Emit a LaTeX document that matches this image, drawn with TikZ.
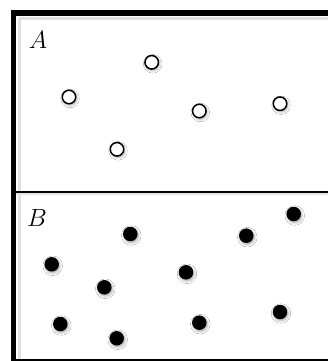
\documentclass[tikz,border=0pt]{standalone}
\usetikzlibrary{shadows.blur}
\begin{document}
\begin{tikzpicture}[x=1pt,y=-1pt,
  shade/.style={blur shadow={shadow xshift=1pt, shadow yshift=-1.5pt, shadow blur radius=2.5pt, shadow opacity=35}},
  opendot/.style={circle, draw=black, fill=white, line width=1.5pt, minimum size=13.5pt, inner sep=0pt, shade},
  fulldot/.style={circle, fill=black, minimum size=14.5pt, inner sep=0pt, shade},
  lbl/.style={font=\fontsize{28}{30}\selectfont, inner sep=0pt},
  frame/.style={line width=5.5pt},
  divider/.style={line width=1.6pt}]
\useasboundingbox (0,0) rectangle (328,361);
\fill[white] (0,0) rectangle (328,361);
\begin{scope}
\clip (0,0) rectangle (328,361);
% soft shadows of the frame
\draw[black!12, line width=3pt] (19,19) -- (340,19);
\draw[black!12, line width=3pt] (19,19) -- (19,361);
\draw[black!10, line width=2.5pt] (16,194) -- (340,194);
\draw[frame] (13.5,362) -- (13.5,13) -- (340,13);
\draw[frame] (13.5,361.5) -- (340,361.5);
\coordinate (dl) at (13.5,191.7);
\coordinate (dr) at (340,191.7);
\draw[divider] (dl) -- (dr);
\end{scope}
\node[lbl] (A) at (38,40) {$A$};
\node[lbl] (B) at (37,218) {$B$};
% open circles
\node[opendot] (a1) at (151.7,62.3) {};
\node[opendot] (a2) at (69,97) {};
\node[opendot] (a3) at (199.3,111) {};
\node[opendot] (a4) at (280,103.7) {};
\node[opendot] (a5) at (117,149.3) {};
% filled dots
\node[fulldot] (b1) at (130.3,234) {};
\node[fulldot] (b2) at (293.7,214) {};
\node[fulldot] (b3) at (246.3,235.7) {};
\node[fulldot] (b4) at (51.7,264.3) {};
\node[fulldot] (b5) at (186,272.3) {};
\node[fulldot] (b6) at (104.3,287.3) {};
\node[fulldot] (b7) at (60.3,324) {};
\node[fulldot] (b8) at (116.7,338.3) {};
\node[fulldot] (b9) at (199.3,322.7) {};
\node[fulldot] (b10) at (280,312) {};
\end{tikzpicture}
\end{document}
